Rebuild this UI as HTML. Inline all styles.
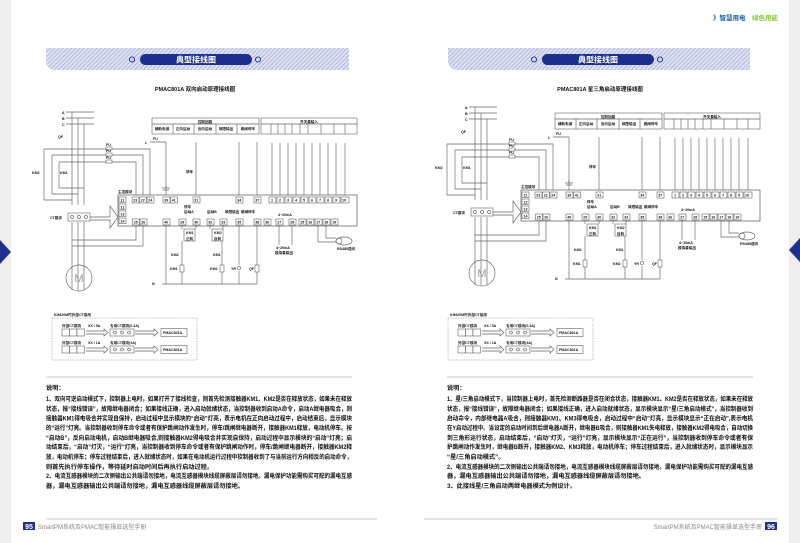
<!DOCTYPE html>
<html><head><meta charset="utf-8"><style>
html,body{margin:0;padding:0;background:#fff;}
svg{display:block;font-family:"Liberation Sans","Noto Sans CJK SC",sans-serif;}
.t{font-size:6.2px;fill:#111;font-weight:bold;}
.s{font-size:3.6px;fill:#111;font-weight:bold;}
.ln{stroke:#666;stroke-width:0.65;fill:none;}
.bx{stroke:#444;stroke-width:0.5;fill:#fff;}
</style></head><body>
<svg width="800" height="543" viewBox="0 0 800 543" xmlns="http://www.w3.org/2000/svg">
<defs>
<pattern id="h" width="3" height="3" patternUnits="userSpaceOnUse" patternTransform="rotate(45)">
<rect width="3" height="3" fill="#e4e7f4"/><rect width="1.4" height="3" fill="#b9c0e2"/></pattern>
</defs>
<rect x="0" y="0" width="11" height="543" fill="#eeeeee"/>
<rect x="789" y="0" width="11" height="543" fill="#eeeeee"/>
<polygon points="0,240 11,252 0,264" fill="#1f2f8c"/>
<polygon points="800,238 789,250 800,262" fill="#1f2f8c"/>
<text x="713" y="20" font-size="6.5" font-weight="bold" fill="#1f5fae">》智慧用电</text>
<text x="752" y="20" font-size="6.5" font-weight="bold" fill="#8cc63f">绿色用能</text>

<path d="M46,48 H349 V70 H56 Q46,70 46,60 Z" fill="url(#h)"/>
<rect x="140" y="54" width="112" height="11" rx="5.5" fill="#1f2f8c"/>
<text x="196" y="62.5" text-anchor="middle" font-size="8" font-weight="bold" fill="#fff">典型接线图</text>
<circle cx="132" cy="59.5" r="2.6" fill="none" stroke="#1f2f8c" stroke-width="0.9"/>
<circle cx="258" cy="59.5" r="2.6" fill="none" stroke="#1f2f8c" stroke-width="0.9"/>
<path d="M448,48 H750 V70 H458 Q448,70 448,60 Z" fill="url(#h)"/>
<rect x="542" y="54" width="112" height="11" rx="5.5" fill="#1f2f8c"/>
<text x="598" y="62.5" text-anchor="middle" font-size="8" font-weight="bold" fill="#fff">典型接线图</text>
<circle cx="534" cy="59.5" r="2.6" fill="none" stroke="#1f2f8c" stroke-width="0.9"/>
<circle cx="660" cy="59.5" r="2.6" fill="none" stroke="#1f2f8c" stroke-width="0.9"/>

<text x="195" y="91" text-anchor="middle" font-size="5.5" fill="#111" font-weight="bold">PMAC801A 双向启动原理接线图</text>
<text x="600" y="91" text-anchor="middle" font-size="5.5" fill="#111" font-weight="bold">PMAC801A 星三角启动原理接线图</text>

<g id="dg">
<text x="62" y="114" class="s">A</text><text x="62" y="120" class="s">B</text><text x="62" y="126" class="s">C</text>
<path class="ln" d="M66,112H94M66,118H94M66,124H94"/>
<path class="ln" d="M72,112V205M78,118V205M84,124V205M72,222V290M78,222V290M84,222V290"/>
<text x="58" y="138" class="s">QF</text>
<path class="ln" d="M44,149H150V195M52,155H143V195M59,162H136V195M44,149V200H72M52,155V194H78M59,162V188H84"/>
<rect x="106" y="147" width="6" height="3" class="bx"/><rect x="106" y="153" width="6" height="3" class="bx"/><rect x="106" y="160" width="6" height="3" class="bx"/>
<text x="106" y="146" class="s">FU</text><text x="106" y="152" class="s">FU</text><text x="106" y="159" class="s">FU</text>
<text x="32" y="174" class="s">KM2</text><text x="60" y="174" class="s">KM1</text>
<rect x="68" y="213" width="22" height="8" class="bx"/>
<circle cx="72" cy="217" r="1.5" class="ln"/><circle cx="79" cy="217" r="1.5" class="ln"/><circle cx="86" cy="217" r="1.5" class="ln"/>
<text x="50" y="219" class="s">CT模块</text>
<path class="ln" d="M90,217H110V206L118,217L110,228V220H90"/>
<path class="ln" d="M136,226V240H72M143,226V246H72"/>
<circle cx="79" cy="278" r="13" class="ln"/>
<text x="79" y="282" text-anchor="middle" font-size="11" fill="#999">M</text>
<rect x="152" y="118" width="107" height="16" class="bx"/><path class="ln" d="M152,124H259M173,124V134M194,124V134M216,124V134M237,124V134"/>
<text x="205" y="123" class="s" text-anchor="middle">控制回路</text>
<text x="162" y="130" class="s" text-anchor="middle">辅助电源</text><text x="183" y="130" class="s" text-anchor="middle">正向启动</text><text x="205" y="130" class="s" text-anchor="middle">反向启动</text><text x="226" y="130" class="s" text-anchor="middle">故障输出</text><text x="248" y="130" class="s" text-anchor="middle">跳闸停车</text>
<rect x="261" y="118" width="96" height="16" class="bx"/><path class="ln" d="M261,124H357M271,124V134M278,124V134M285,124V134M292,124V134M300,124V134M308,124V134M321,124V134M334,124V134M345,124V134"/>
<text x="309" y="123" class="s" text-anchor="middle">开关量输入</text>
<path class="ln" d="M150,142H166V195M196,142V195M239,142V195M257,142V195M272,143V195M280,143V195M288,143V195M296,143V195M304,143V195M312,143V195M320,143V195M328,143V195M336,143V195M345,143V195"/>
<text x="145" y="144" class="s">L</text><text x="153" y="140" class="s">FU</text>
<text x="186" y="173" class="s">停车</text>
<path class="ln" d="M166,185V188M162,188H170M163,190H169"/>
<rect x="118" y="195" width="239" height="31" fill="#fff" stroke="#555" stroke-width="0.7"/>
<text x="118" y="193" class="s">主控模块</text>
<g class="s">
<rect x="119" y="197" width="7" height="5.5" class="bx"/><text x="120.5" y="201.3">11</text>
<rect x="119" y="204" width="7" height="5.5" class="bx"/><text x="120.5" y="208.3">12</text>
<rect x="119" y="211" width="7" height="5.5" class="bx"/><text x="120.5" y="215.3">13</text>
<rect x="119" y="218" width="7" height="5.5" class="bx"/><text x="120.5" y="222.3">14</text>
<rect x="132" y="197" width="7" height="6" class="bx"/><text x="133.3" y="201.5">23</text>
<rect x="139.5" y="197" width="7" height="6" class="bx"/><text x="140.8" y="201.5">22</text>
<rect x="147" y="197" width="7" height="6" class="bx"/><text x="148.3" y="201.5">24</text>
<rect x="163" y="197" width="7" height="6" class="bx"/><text x="164.3" y="201.5">39</text>
<rect x="170.5" y="197" width="7" height="6" class="bx"/><text x="171.8" y="201.5">41</text>
<rect x="193" y="197" width="7" height="6" class="bx"/><text x="194.3" y="201.5">31</text>
<rect x="236" y="197" width="7" height="6" class="bx"/><text x="237.3" y="201.5">34</text>
<rect x="254" y="197" width="7" height="6" class="bx"/><text x="255.3" y="201.5">37</text>
<rect x="269" y="197" width="7" height="6" class="bx"/><text x="271" y="201.5">1</text>
<rect x="277" y="197" width="7" height="6" class="bx"/><text x="279" y="201.5">2</text>
<rect x="285" y="197" width="7" height="6" class="bx"/><text x="287" y="201.5">3</text>
<rect x="293" y="197" width="7" height="6" class="bx"/><text x="295" y="201.5">4</text>
<rect x="301" y="197" width="7" height="6" class="bx"/><text x="303" y="201.5">5</text>
<rect x="309" y="197" width="7" height="6" class="bx"/><text x="311" y="201.5">6</text>
<rect x="317" y="197" width="7" height="6" class="bx"/><text x="319" y="201.5">7</text>
<rect x="325" y="197" width="7" height="6" class="bx"/><text x="327" y="201.5">8</text>
<rect x="333" y="197" width="7" height="6" class="bx"/><text x="335" y="201.5">9</text>
<rect x="341" y="197" width="8" height="6" class="bx"/><text x="342" y="201.5">10</text>
<rect x="132.5" y="219" width="7" height="6" class="bx"/><text x="133.8" y="223.5">25</text>
<rect x="140" y="219" width="7" height="6" class="bx"/><text x="141.3" y="223.5">26</text>
<rect x="163" y="219" width="7" height="6" class="bx"/><text x="164.3" y="223.5">40</text>
<rect x="179" y="219" width="7" height="6" class="bx"/><text x="180.3" y="223.5">29</text>
<rect x="193" y="219" width="7" height="6" class="bx"/><text x="194.3" y="223.5">30</text>
<rect x="207" y="219" width="7" height="6" class="bx"/><text x="208.3" y="223.5">32</text>
<rect x="220" y="219" width="7" height="6" class="bx"/><text x="221.3" y="223.5">33</text>
<rect x="236" y="219" width="7" height="6" class="bx"/><text x="237.3" y="223.5">35</text>
<rect x="254" y="219" width="7" height="6" class="bx"/><text x="255.3" y="223.5">38</text>
<rect x="264" y="219" width="7" height="6" class="bx"/><text x="265.3" y="223.5">36</text>
<rect x="276" y="219" width="7" height="6" class="bx"/><text x="277.3" y="223.5">27</text>
<rect x="289" y="219" width="7" height="6" class="bx"/><text x="290.3" y="223.5">28</text>
<rect x="299" y="219" width="7" height="6" class="bx"/><text x="300.3" y="223.5">15</text>
<rect x="307" y="219" width="7" height="6" class="bx"/><text x="308.3" y="223.5">16</text>
<rect x="315" y="219" width="7" height="6" class="bx"/><text x="316.3" y="223.5">17</text>
<rect x="323" y="219" width="7" height="6" class="bx"/><text x="324.3" y="223.5">18</text>
<rect x="331" y="219" width="7" height="6" class="bx"/><text x="332.3" y="223.5">19</text>
<text x="184" y="208">停车</text><text x="184" y="213">启动A</text><text x="207" y="213">启动B</text><text x="225" y="213">故障输出</text><text x="241" y="213">跳闸停车</text>
<text x="278" y="216">4~20mA</text>
</g>
<path class="ln" d="M166,225V284H162M182,225V229M196,225V229M210,225V229M223,225V229M182,241V265M222,241V265M182,272V284M222,272V284M239,225V265M239,271V284M257,225V265M257,272V284M166,284H257M279,225V245M292,225V245M318,225V242H336M326,225V238H336"/>
<rect x="184" y="229" width="11" height="12" class="bx"/><rect x="212" y="229" width="11" height="12" class="bx"/>
<text x="186" y="234" class="s">KM1</text><text x="186" y="240" class="s">正转</text>
<text x="214" y="234" class="s">KM2</text><text x="214" y="240" class="s">反转</text>
<text x="171" y="256" class="s">KM2</text><text x="213" y="256" class="s">KM1</text>
<rect x="180" y="265" width="4" height="7" class="bx"/><rect x="220" y="265" width="4" height="7" class="bx"/><rect x="255" y="265" width="4" height="7" class="bx"/>
<circle cx="239" cy="268" r="1.6" class="ln"/>
<text x="170" y="270" class="s">KM1</text><text x="210" y="270" class="s">KM2</text><text x="231" y="270" class="s">YR</text><text x="249" y="270" class="s">QF</text>
<text x="152" y="285" class="s">N</text>
<text x="276" y="249" class="s">4~20mA</text><text x="275" y="254" class="s">模拟量输出</text>
<ellipse cx="344" cy="241" rx="8" ry="4" class="ln"/><circle cx="339" cy="241" r="3" class="ln"/>
<text x="337" y="250" class="s">RS485通讯</text>
</g>

<use href="#dg" transform="translate(403,-5)"/>

<g id="ct">
<text x="54" y="316" class="s">KH820M时外部CT接线</text>
<rect x="52" y="318" width="145" height="42" fill="none" stroke="#888" stroke-width="0.5" stroke-dasharray="1.5,1"/>
<g>
<text x="62" y="327" class="s">外部CT模块</text><text x="88" y="327" class="s">XX / 5A</text><text x="110" y="327" class="s">专用CT模块(0.3A)</text>
<rect x="62" y="329" width="7.5" height="7" class="bx"/><rect x="69.5" y="329" width="7.5" height="7" class="bx"/><rect x="77" y="329" width="7.5" height="7" class="bx"/>
<path class="ln" d="M86,331H104V329L108,332.5L104,336V334H86"/>
<rect x="110" y="329" width="24" height="7" class="bx"/><circle cx="115" cy="332.5" r="1.4" class="ln"/><circle cx="122" cy="332.5" r="1.4" class="ln"/><circle cx="129" cy="332.5" r="1.4" class="ln"/>
<path class="ln" d="M135,331H154V329L158,332.5L154,336V334H135"/>
<rect x="161" y="328.5" width="26" height="8" class="bx"/><text x="163" y="334" class="s">PMAC801A</text>
</g>
<g transform="translate(0,17)">
<text x="62" y="327" class="s">外部CT模块</text><text x="88" y="327" class="s">XX / 1A</text><text x="110" y="327" class="s">专用CT模块(3A)</text>
<rect x="62" y="329" width="7.5" height="7" class="bx"/><rect x="69.5" y="329" width="7.5" height="7" class="bx" stroke-width="0.9"/><rect x="77" y="329" width="7.5" height="7" class="bx"/>
<path class="ln" d="M86,331H104V329L108,332.5L104,336V334H86"/>
<rect x="110" y="329" width="24" height="7" class="bx"/><circle cx="115" cy="332.5" r="1.4" class="ln"/><circle cx="122" cy="332.5" r="1.4" class="ln"/><circle cx="129" cy="332.5" r="1.4" class="ln"/>
<path class="ln" d="M135,331H154V329L158,332.5L154,336V334H135"/>
<rect x="161" y="328.5" width="26" height="8" class="bx"/><text x="163" y="334" class="s">PMAC801A</text>
</g>
</g>
<use href="#ct" transform="translate(396,0)"/>

<path d="M46,377H352M447,377H753M46,519H377M424,519H778" stroke="#bbb" stroke-width="0.8"/>

<g class="t">
<text x="46" y="390">说明：</text>
<text x="46" y="401" textLength="306" lengthAdjust="spacingAndGlyphs">1、双向可逆启动模式下，控制器上电时，如果打开了接线检查，则首先检测接触器KM1、KM2是否在释放状态，如果未在释放</text>
<text x="46" y="411" textLength="306" lengthAdjust="spacingAndGlyphs">状态，报“接线错误”，故障继电器闭合；如果接线正确，进入启动就绪状态，当控制器收到启动A命令，启动A继电器吸合，则</text>
<text x="46" y="420.5" textLength="306" lengthAdjust="spacingAndGlyphs">接触器KM1得电吸合并实现自保持，启动过程中显示模块的“启动”灯亮，表示电机在正向启动过程中，启动结束后，显示模块</text>
<text x="46" y="430" textLength="306" lengthAdjust="spacingAndGlyphs">的“运行”灯亮。当控制器收到停车命令或者有保护跳闸动作发生时，停车/跳闸继电器断开，接触器KM1释放，电动机停车。按</text>
<text x="46" y="440" textLength="306" lengthAdjust="spacingAndGlyphs">“启动B”，反向启动电机，启动B继电器吸合,则接触器KM2得电吸合并实现自保持，启动过程中显示模块的“启动”灯亮；启</text>
<text x="46" y="449" textLength="306" lengthAdjust="spacingAndGlyphs">动结束后，“启动”灯灭，“运行”灯亮，当控制器收到停车命令或者有保护跳闸动作时，停车/跳闸继电器断开，接触器KM2释</text>
<text x="46" y="459" textLength="306" lengthAdjust="spacingAndGlyphs">放，电动机停车；停车过程结束后，进入就绪状态时，如果在电动机运行过程中控制器收到了与当前运行方向相反的启动命令，</text>
<text x="46" y="469">则首先执行停车操作，等待延时启动时间后再执行启动过程。</text>
<text x="46" y="478" textLength="306" lengthAdjust="spacingAndGlyphs">2、电流互感器模块的二次侧输出公共端请勿接地，电流互感器模块线缆屏蔽层请勿接地。漏电保护功能需购买可配的漏电互感</text>
<text x="46" y="488">器，漏电互感器输出公共端请勿接地，漏电互感器线缆屏蔽层请勿接地。</text>
</g>
<g class="t">
<text x="447" y="390">说明：</text>
<text x="447" y="401" textLength="306" lengthAdjust="spacingAndGlyphs">1、星/三角启动模式下，当控制器上电时，首先检测断路器是否在闭合状态，接触器KM1、KM2是否在释放状态，如果未在释放</text>
<text x="447" y="411" textLength="306" lengthAdjust="spacingAndGlyphs">状态，报“接线错误”，故障继电器闭合；如果接线正确，进入启动就绪状态，显示模块显示“星/三角启动模式”，当控制器收到</text>
<text x="447" y="420.5" textLength="306" lengthAdjust="spacingAndGlyphs">启动命令，内部继电器A吸合，则接触器KM1、KM3得电吸合，启动过程中“启动”灯亮，显示模块显示“正在启动”,表示电机</text>
<text x="447" y="430" textLength="306" lengthAdjust="spacingAndGlyphs">在Y启动过程中。当设定的启动时间到后继电器A断开，继电器B吸合，则接触器KM1失电释放，接触器KM2得电吸合，自动切换</text>
<text x="447" y="440" textLength="306" lengthAdjust="spacingAndGlyphs">到三角形运行状态，启动结束后，“启动”灯灭，“运行”灯亮，显示模块显示“正在运行”，当控制器收到停车命令或者有保</text>
<text x="447" y="449" textLength="306" lengthAdjust="spacingAndGlyphs">护跳闸动作发生时，继电器B断开，接触器KM2、KM3释放，电动机停车；停车过程结束后，进入就绪状态时，显示模块显示</text>
<text x="447" y="459">“星/三角启动模式”。</text>
<text x="447" y="469" textLength="306" lengthAdjust="spacingAndGlyphs">2、电流互感器模块的二次侧输出公共端请勿接地，电流互感器模块线缆屏蔽层请勿接地。漏电保护功能需购买可配的漏电互感</text>
<text x="447" y="478">器，漏电互感器输出公共端请勿接地，漏电互感器线缆屏蔽层请勿接地。</text>
<text x="447" y="488">3、此接线星/三角启动两继电器模式为例设计。</text>
</g>

<rect x="23" y="522" width="12" height="8" fill="#1f2f8c"/>
<text x="29" y="529" text-anchor="middle" font-size="7" font-weight="bold" fill="#fff">95</text>
<text x="38" y="529" font-size="6" fill="#888">SmartPM系统及PMAC智能操显选型手册</text>
<rect x="765" y="522" width="12" height="8" fill="#1f2f8c"/>
<text x="771" y="529" text-anchor="middle" font-size="7" font-weight="bold" fill="#fff">96</text>
<text x="762" y="529" text-anchor="end" font-size="6" fill="#888">SmartPM系统及PMAC智能操显选型手册</text>
</svg>
</body></html>
